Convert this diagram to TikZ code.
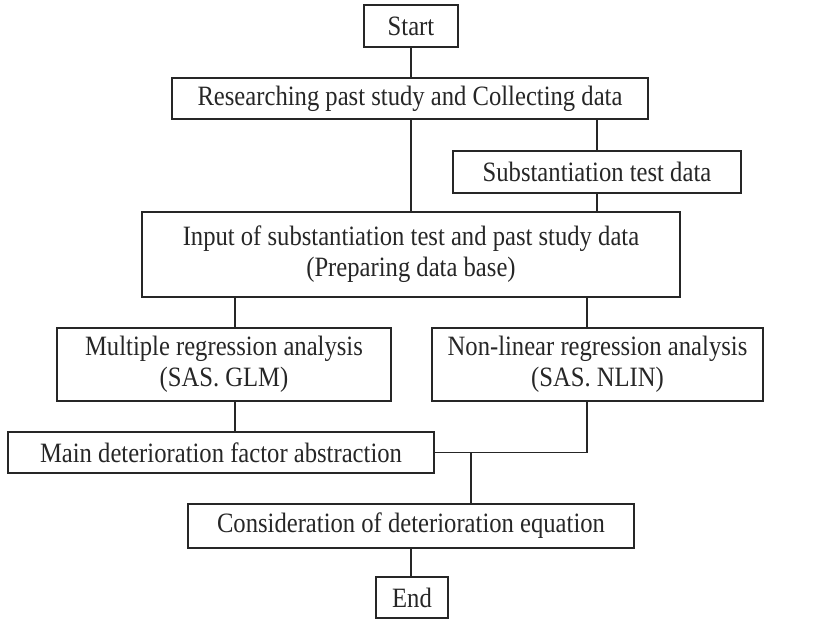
\documentclass[tikz,border=0pt]{standalone}
\usepackage{fontspec}
\setmainfont[FakeStretch=0.88]{Liberation Serif}
\usetikzlibrary{positioning}

\tikzset{
    flowbox/.style={draw=black!85, line width=0.6pt, align=center, inner sep=0pt,
        font=\fontsize{14}{15.5}\selectfont, text=black!85},
    link/.style={draw=black!85, line width=0.6pt}
}

\begin{document}
\begin{tikzpicture}[x=0.5pt, y=-0.5pt]
        \useasboundingbox (0,0) rectangle (832,620);

        % Top part: collecting data
        \node[flowbox, minimum width=47pt, minimum height=21pt] (start) at (411, 26) {Start};
        \node[flowbox, minimum width=238pt, minimum height=20.5pt] (research) at (410, 98.5)
            {Researching past study and Collecting data};
        \node[flowbox, minimum width=144pt, minimum height=21pt] (subst) at (597, 172)
            {Substantiation test data};
        \node[flowbox, minimum width=269pt, minimum height=42.5pt] (input) at (411, 254.5)
            {Input of substantiation test and past study data\\(Preparing data base)};

        % Middle part: the two analyses
        \node[flowbox, minimum width=167pt, minimum height=36.5pt] (multi) at (224, 364.5)
            {Multiple regression analysis\\(SAS. GLM)};
        \node[flowbox, minimum width=165.5pt, minimum height=36.5pt] (nonlin) at (597.5, 364.5)
            {Non-linear regression analysis\\(SAS. NLIN)};
        \node[flowbox, minimum width=213pt, minimum height=20.5pt] (main) at (221, 452.5)
            {Main deterioration factor abstraction};

        % Bottom part
        \node[flowbox, minimum width=223pt, minimum height=22pt] (consid) at (411, 526)
            {Consideration of deterioration equation};
        \node[flowbox, minimum width=36pt, minimum height=20.5pt] (end) at (412, 597.5) {End};

        % x positions of the links
        \coordinate (xc) at (411, 0);
        \coordinate (xl) at (235, 0);
        \coordinate (xr) at (587, 0);
        \coordinate (xm) at (471, 0);

        \draw[link] (xc |- start.south) -- (xc |- research.north);
        \draw[link] (xc |- research.south) -- (xc |- input.north);
        \draw[link] (subst.north |- research.south) -- (subst.north);
        \draw[link] (subst.south) -- (subst.south |- input.north);
        \draw[link] (xl |- input.south) -- (xl |- multi.north);
        \draw[link] (xr |- input.south) -- (xr |- nonlin.north);
        \draw[link] (xl |- multi.south) -- (xl |- main.north);
        \draw[link] (xr |- nonlin.south) -- (xr |- main.east) -- (main.east);
        \draw[link] (xm |- main.east) -- (xm |- consid.north);
        \draw[link] (xc |- consid.south) -- (xc |- end.north);
\end{tikzpicture}
\end{document}
